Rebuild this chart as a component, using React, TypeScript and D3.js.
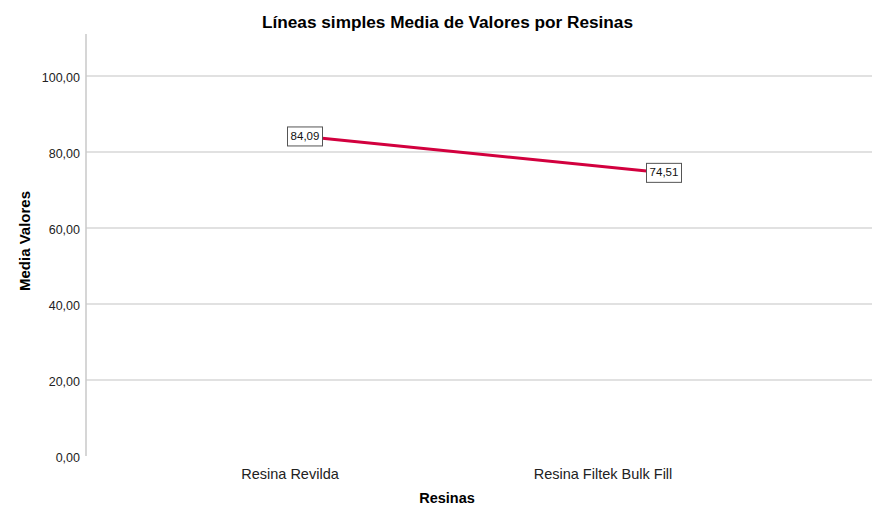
import React from "react";
import * as d3 from "d3";

const categories: string[] = ["Resina Revilda", "Resina Filtek Bulk Fill"];
const meanValues: number[] = [84.09, 74.51];
const yTicks: number[] = [0, 20, 40, 60, 80, 100];
const title = "Líneas simples Media de Valores por Resinas";
const xTitle = "Resinas";
const yTitle = "Media Valores";

const W = 872;
const H = 514;
const plotLeft = 86;
const plotRight = 872;
const plotTop = 34;
const plotBottom = 456;
const FONT = "'Liberation Sans', Arial, Helvetica, sans-serif";

const fmt = (v: number) => v.toFixed(2).replace(".", ",");

export default function App() {
  const y = d3.scaleLinear().domain([0, 111.05]).range([plotBottom, plotTop]);
  const x = d3.scalePoint<string>().domain(categories).range([305, 664]);
  const xLab = d3.scalePoint<string>().domain(categories).range([290, 603]);

  const pts = categories.map((c, i) => ({ c, v: meanValues[i] }));
  const line = d3
    .line<{ c: string; v: number }>()
    .x((d) => x(d.c) as number)
    .y((d) => y(d.v));

  const boxW = 35;
  const boxH = 19;

  return (
    <svg
      width={W}
      height={H}
      style={{ position: "absolute", left: 0, top: 0, background: "#fff" }}
      fontFamily={FONT}
    >
      <rect x={0} y={0} width={W} height={H} fill="#fff" />
      <text
        x={262}
        y={28}
        textLength={371}
        lengthAdjust="spacingAndGlyphs"
        fontSize={16}
        fontWeight="bold"
        fill="#000"
      >
        {title}
      </text>

      {yTicks.map((t) => (
        <g key={t}>
          {t > 0 && (
            <line x1={plotLeft} x2={plotRight} y1={y(t)} y2={y(t)} stroke="#c4c4c4" strokeWidth={1.2} />
          )}
          <text
            x={80}
            y={y(t) + 2.5}
            textAnchor="end"
            dominantBaseline="middle"
            fontSize={12.5}
            fill="#222"
          >
            {fmt(t)}
          </text>
        </g>
      ))}

      <line x1={plotLeft} x2={plotLeft} y1={plotTop} y2={plotBottom} stroke="#c8c8c8" strokeWidth={1.5} />

      <path d={line(pts) || ""} fill="none" stroke="#d2003e" strokeWidth={3} />

      {pts.map((p) => {
        const cx = x(p.c) as number;
        const cy = y(p.v);
        return (
          <g key={p.c}>
            <rect
              x={cx - boxW / 2}
              y={cy - boxH / 2}
              width={boxW}
              height={boxH}
              fill="#fff"
              stroke="#555"
              strokeWidth={1}
            />
            <text x={cx} y={cy + 0.5} textAnchor="middle" dominantBaseline="middle" fontSize={11.5} fill="#111">
              {fmt(p.v)}
            </text>
          </g>
        );
      })}

      {categories.map((c) => (
        <text key={c} x={xLab(c) as number} y={479} textAnchor="middle" fontSize={14.5} fill="#222">
          {c}
        </text>
      ))}

      <text x={447} y={503} textAnchor="middle" fontSize={14.5} fontWeight="bold" fill="#000">
        {xTitle}
      </text>

      <text
        transform={`translate(30, 241) rotate(-90)`}
        textAnchor="middle"
        fontSize={15}
        fontWeight="bold"
        fill="#000"
      >
        {yTitle}
      </text>
    </svg>
  );
}
